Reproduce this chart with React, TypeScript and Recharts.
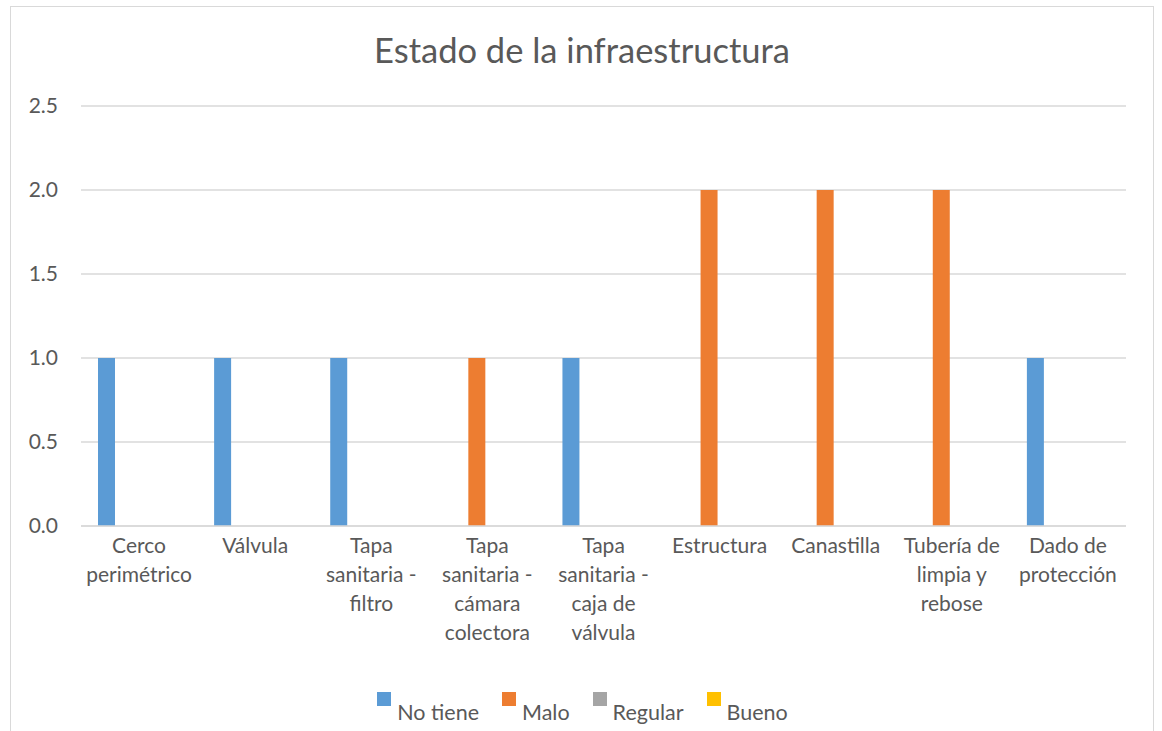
import React from 'react';
import { BarChart, Bar, XAxis, YAxis, CartesianGrid, Legend } from 'recharts';

const categories = [
  'Cerco\nperimétrico',
  'Válvula',
  'Tapa\nsanitaria -\nfiltro',
  'Tapa\nsanitaria -\ncámara\ncolectora',
  'Tapa\nsanitaria -\ncaja de\nválvula',
  'Estructura',
  'Canastilla',
  'Tubería de\nlimpia y\nrebose',
  'Dado de\nprotección',
];

const noTiene = [1, 1, 1, 0, 1, 0, 0, 0, 1];
const malo = [0, 0, 0, 1, 0, 2, 2, 2, 0];
const regular = [0, 0, 0, 0, 0, 0, 0, 0, 0];
const bueno = [0, 0, 0, 0, 0, 0, 0, 0, 0];

const yTicks = [0, 0.5, 1, 1.5, 2, 2.5];

const series = [
  { key: 'noTiene', name: 'No tiene', color: '#5B9BD5' },
  { key: 'malo', name: 'Malo', color: '#ED7D31' },
  { key: 'regular', name: 'Regular', color: '#A5A5A5' },
  { key: 'bueno', name: 'Bueno', color: '#FFC000' },
];

const data = categories.map((label, i) => ({
  label,
  noTiene: noTiene[i],
  malo: malo[i],
  regular: regular[i],
  bueno: bueno[i],
}));

const FONT = 'Lato, "Open Sans", sans-serif';
const TEXT = '#595959';

const CategoryTick = (props: any) => {
  const { x, y, payload } = props;
  const lines = String(payload.value).split('\n');
  return (
    <text x={x} y={y + 25} textAnchor="middle" fill={TEXT} fontSize={21} fontFamily={FONT}>
      {lines.map((line, i) => (
        <tspan key={i} x={x} dy={i === 0 ? 0 : 29}>
          {line}
        </tspan>
      ))}
    </text>
  );
};

const LegendContent = () => (
  <div
    style={{
      display: 'flex',
      justifyContent: 'center',
      paddingLeft: 22,
      fontFamily: FONT,
      fontSize: 21.5,
      color: TEXT,
    }}
  >
    {series.map((s) => (
      <div key={s.key} style={{ display: 'flex', alignItems: 'flex-start', marginRight: 23 }}>
        <div style={{ width: 14, height: 14, background: s.color, marginTop: 5, marginRight: 6 }} />
        <div style={{ marginTop: 13, lineHeight: '24px' }}>{s.name}</div>
      </div>
    ))}
  </div>
);

export default function App() {
  return (
    <div
      style={{
        position: 'absolute',
        left: 10,
        top: 6,
        width: 1144,
        height: 730,
        border: '1.5px solid #d9d9d9',
        borderBottom: 'none',
        boxSizing: 'border-box',
        background: '#fff',
      }}
    >
      <div
        style={{
          position: 'absolute',
          top: 22,
          width: '100%',
          textAlign: 'center',
          fontFamily: FONT,
          fontSize: 34.5,
          color: TEXT,
        }}
      >
        Estado de la infraestructura
      </div>
      <BarChart
        width={1144}
        height={730}
        data={data}
        margin={{ top: 99, right: 29, left: 0, bottom: 10 }}
        barSize={17}
        barGap={5}
      >
        <CartesianGrid vertical={false} stroke="#d9d9d9" strokeWidth={1.5} />
        <XAxis
          dataKey="label"
          interval={0}
          height={161}
          tickLine={false}
          tickSize={0}
          axisLine={{ stroke: '#d9d9d9', strokeWidth: 1.5 }}
          tick={<CategoryTick />}
        />
        <YAxis
          width={70}
          domain={[0, 2.5]}
          ticks={yTicks}
          axisLine={false}
          tickLine={false}
          tickSize={0}
          tickMargin={23}
          tickFormatter={(v: number) => v.toFixed(1)}
          tick={{ fill: TEXT, fontSize: 21, fontFamily: FONT }}
        />
        <Legend
          verticalAlign="bottom"
          height={40}
          wrapperStyle={{ left: 0, width: 1144 }}
          content={<LegendContent />}
        />
        {series.map((s) => (
          <Bar key={s.key} dataKey={s.key} name={s.name} fill={s.color} isAnimationActive={false} />
        ))}
      </BarChart>
    </div>
  );
}
